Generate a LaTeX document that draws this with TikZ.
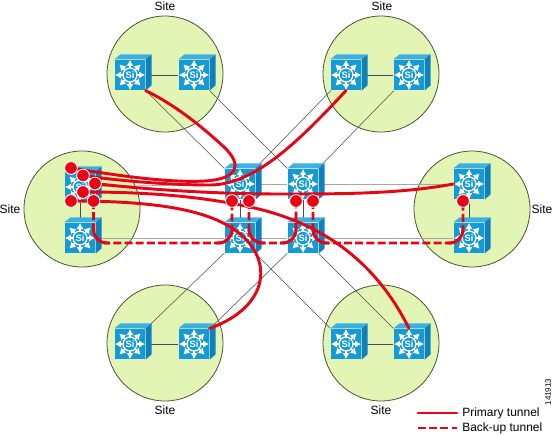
\documentclass[tikz,border=0pt]{standalone}
\usepackage{fontspec}
\setmainfont{Liberation Sans}
\usetikzlibrary{arrows.meta}
\definecolor{mysite}{RGB}{226,245,180}
\definecolor{myrim}{RGB}{70,85,50}
\definecolor{myblue}{RGB}{20,155,215}
\definecolor{mytop}{RGB}{60,175,228}
\definecolor{myside}{RGB}{14,130,190}
\definecolor{mytunnel}{RGB}{230,5,20}
\tikzset{
    sitedisc/.style={circle, draw=myrim, line width=0.6pt, fill=mysite, minimum size=87pt, inner sep=0pt},
    switchbox/.style={rectangle, fill=myblue, minimum size=23pt, inner sep=0pt},
    sitelabel/.style={font=\fontsize{9}{10}\selectfont, inner sep=0pt},
    link/.style={black!70, line width=0.4pt},
    rowlink/.style={black!35, line width=0.6pt},
    tunnel/.style={mytunnel, line width=2.2pt, line cap=round},
    backup/.style={mytunnel, line width=2.2pt, dash pattern=on 6pt off 2.4pt, rounded corners=10pt},
    tunneldot/.style={circle, fill=mytunnel, draw=white, line width=0.6pt, minimum size=9.5pt, inner sep=0pt},
}
\begin{document}
\begin{tikzpicture}[x=0.75pt, y=-0.75pt]
    \useasboundingbox (0,0) rectangle (553,435);

    % sites
    \foreach \n/\x/\y in {tl/165/74, tr/381/74, ml/82/209, mr/472/209, bl/165/343, br/381/343}
        \node[sitedisc] (\n) at (\x,\y) {};

    \node[sitelabel] (ltl) at (165,6) {Site};
    \node[sitelabel] (ltr) at (382,6) {Site};
    \node[sitelabel] (lml) at (10,209) {Site};
    \node[sitelabel] (lmr) at (542,209) {Site};
    \node[sitelabel] (lbl) at (165,410) {Site};
    \node[sitelabel] (lbr) at (381,410) {Site};

    % switches, faces come after the links
    \foreach \n/\x/\y in {ta/130/75, tb/194/75, tc/346/75, td/409/75,
                          la/80/187, lb/80/238, ra/469/184, rb/469/238,
                          ca/240/184, cb/303/184, cc/240/238, cd/303/238,
                          ba/130/344, bb/194/344, bc/346/344, bd/409/344}
        \node[switchbox] (\n) at (\x,\y) {};

    \foreach \a/\b in {ta/tb, tc/td, la/lb, ra/rb, ba/bb, bc/bd, ca/cc, cb/cd,
                       ta/ca, tb/cb, tc/ca, td/cb, ba/cc, bb/cd, bc/cc, bd/cd}
        \draw[link] (\a) -- (\b);
    \foreach \a/\b in {la/ca, ca/cb, cb/ra, lb/cc, cc/cd, cd/rb}
        \draw[rowlink] (\a) -- (\b);

    \foreach \n in {ta,tb,tc,td,la,lb,ra,rb,ca,cb,cc,cd,ba,bb,bc,bd} {
        \fill[mytop] (\n.north west) -- ++(6,-5) -- ++(31,0) -- (\n.north east) -- cycle;
        \fill[myside] (\n.north east) -- ++(6,-5) -- ++(0,31) -- (\n.south east) -- cycle;
        \foreach \a in {0,45,...,315}
            \draw[white, line width=1.1pt, -{Latex[length=4.5pt,width=5.5pt]}]
                ([shift={(\a:6)}]\n.center) -- ([shift={(\a:15)}]\n.center);
        \node[circle, draw=white, fill=myblue, line width=1pt, minimum size=10.5pt, inner sep=0pt,
              text=white, font=\fontsize{7}{7}\bfseries\selectfont] (\n si) at (\n.center) {Si};
    }

    % tunnel heads
    \node[tunneldot] (da) at (71,168) {};
    \node[tunneldot] (db) at (83,175.5) {};
    \node[tunneldot] (dc) at (95,183.5) {};
    \node[tunneldot] (dd) at (83,192) {};
    \node[tunneldot] (de) at (71,201) {};
    \node[tunneldot] (df) at (93.5,201) {};
    \node[tunneldot] (dg) at (232,201) {};
    \node[tunneldot] (dh) at (249,201) {};
    \node[tunneldot] (di) at (296,201) {};
    \node[tunneldot] (dj) at (313,201) {};
    \node[tunneldot] (dk) at (463,201) {};

    % primary
    \draw[tunnel] (da.center) .. controls (120,176) and (170,183) .. (205,181)
        .. controls (238,179) and (243,165) .. (224,147)
        .. controls (200,125) and (175,105) .. (ta.south east);
    \draw[tunnel] (db.center) .. controls (120,181) and (170,185) .. (210,185)
        .. controls (255,185) and (300,140) .. (tc.south);
    \draw[tunnel] (dc.center) .. controls (150,190) and (220,194) .. (280,194)
        .. controls (340,194) and (400,194) .. (ra.west);
    \draw[tunnel] (dd.center) .. controls (130,192) and (190,194) .. (250,207)
        .. controls (320,222) and (375,260) .. (bd.north);
    \draw[tunnel] (de.center) .. controls (130,201) and (190,205) .. (225,224)
        .. controls (275,250) and (275,305) .. (bb.north east);

    % back-up
    \draw[backup] (df.center) -- (93.5,243) -- (232,243) -- (dg.center);
    \draw[backup] (dh.center) -- (249,243) -- (296,243) -- (di.center);
    \draw[backup] (dj.center) -- (313,243) -- (463,243) -- (dk.center);
    \foreach \x/\s in {93.5/1, 232/-1, 249/1, 296/-1, 313/1, 463/-1}
        \draw[tunnel, line cap=butt, rounded corners=10pt] (\x,227) -- (\x,243) -- ++(\s*16,0);

    % dots again on top of the lines
    \foreach \n in {da,db,dc,dd,de,df,dg,dh,di,dj,dk}
        \node[tunneldot] at (\n.center) {};

    % legend
    \coordinate (pa) at (418,413);
    \coordinate (pb) at (457,413);
    \coordinate (qa) at (418,428);
    \coordinate (qb) at (457,428);
    \draw[tunnel] (pa) -- (pb);
    \draw[backup] (qa) -- (qb);
    \node[sitelabel, anchor=west] (lp) at (462,413) {Primary tunnel};
    \node[sitelabel, anchor=west] (lq) at (462,428) {Back-up tunnel};
    \node[font=\fontsize{6}{7}\selectfont, rotate=90, inner sep=0pt] (code) at (548,392) {141913};
\end{tikzpicture}
\end{document}
